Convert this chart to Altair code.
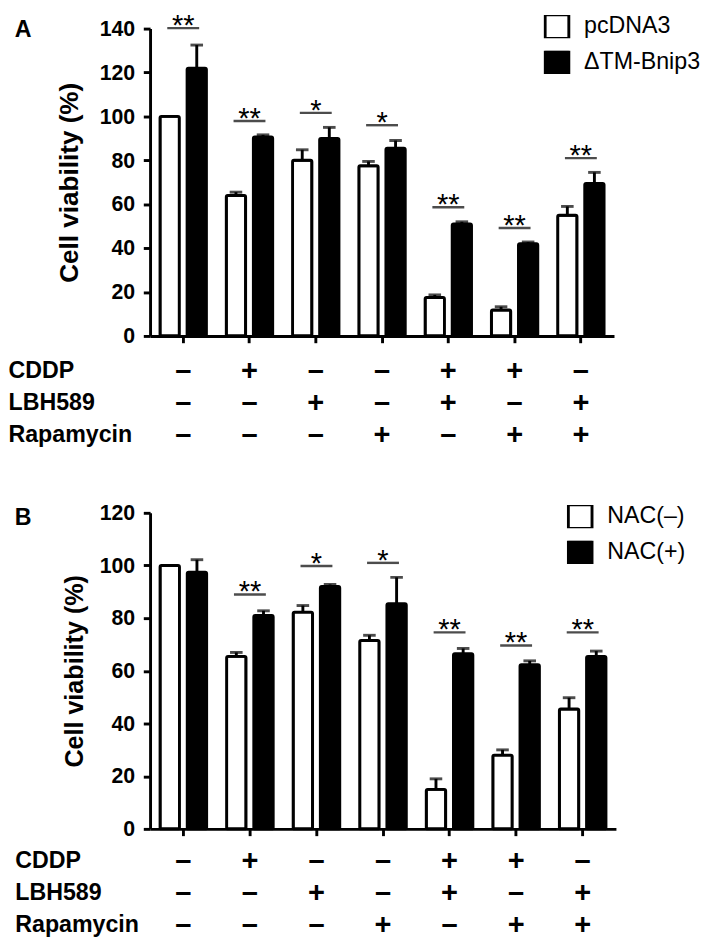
import altair as alt
import pandas as pd

FONT = "Liberation Sans"

# ---- treatment table (shared by both panels) ----
CDDP = ["–", "+", "–", "–", "+", "+", "–"]
LBH589 = ["–", "–", "+", "–", "+", "–", "+"]
RAPAMYCIN = ["–", "–", "–", "+", "–", "+", "+"]
ROW_NAMES = ["CDDP", "LBH589", "Rapamycin"]
Y_TITLE = "Cell viability (%)"

# ---- panel A ----
A_SERIES = ["pcDNA3", "ΔTM-Bnip3"]
A_CTRL = [100, 64, 80, 77.5, 17.5, 11.8, 55]
A_CTRL_ERR = [0, 1.5, 4.8, 2, 1.2, 1.5, 4]
A_TRT = [122, 90.6, 90, 85.5, 51, 42, 69.5]
A_TRT_ERR = [10.5, 1, 5, 3.5, 1, 0.8, 5]
A_SIG_Y = [140.2, 97.9, 101.6, 96, 58.6, 49.2, 81]
A_SIG = ["**", "**", "*", "*", "**", "**", "**"]
A_TICKS = [0, 20, 40, 60, 80, 100, 120, 140]

# ---- panel B ----
B_SERIES = ["NAC(–)", "NAC(+)"]
B_CTRL = [100, 65.5, 82.3, 71.5, 15, 28, 45.5]
B_CTRL_ERR = [0, 1.5, 2.5, 2, 4, 2, 4.3]
B_TRT = [97.5, 81, 92, 85.5, 66.5, 62.3, 65.5]
B_TRT_ERR = [4.7, 1.8, 0.8, 10, 2, 1.5, 2]
B_SIG_Y = [None, 89, 99.8, 101, 74.6, 69.6, 74.6]
B_SIG = ["", "**", "*", "*", "**", "**", "**"]
B_TICKS = [0, 20, 40, 60, 80, 100, 120]

CONDS = [f"{c} {l} {r}" for c, l, r in zip(CDDP, LBH589, RAPAMYCIN)]


def panel(letter, key, series, ctrl, ctrl_err, trt, trt_err, sig_y, sig, ticks,
          width, height, ytitle_size, ytitle_pad, title_x, label_pad, row_y,
          title_dx, title_dy, legend_x, legend_y, legend_rowpad):
    rows = []
    for i, c in enumerate(CONDS):
        rows.append({"cond": c, key: series[0], "value": ctrl[i], "err": ctrl_err[i]})
        rows.append({"cond": c, key: series[1], "value": trt[i], "err": trt_err[i]})
    df = pd.DataFrame(rows)
    df["top"] = df["value"] + df["err"]
    err_df = df[df["err"] > 0]
    sig_df = pd.DataFrame([
        {"cond": c, "value": y, "sig": s}
        for c, y, s in zip(CONDS, sig_y, sig) if y is not None
    ])

    ymax = ticks[-1]
    x_axis = alt.Axis(
        title=ROW_NAMES, labelExpr="split(datum.label, ' ')", labelAngle=0,
        labelFontSize=30, labelFontWeight="bold", labelLineHeight=33,
        labelBaseline="top", labelPadding=label_pad, labelOverlap=False, labelFlush=False,
        tickSize=7, tickWidth=3, domainWidth=3,
        titleX=title_x, titleY=row_y, titleAlign="left", titleBaseline="top",
        titleAngle=0, titleFontSize=24, titleFontWeight="bold", titleLineHeight=33,
    )
    x_scale = alt.Scale(type="band", paddingInner=0.3, paddingOuter=0.15)
    y_axis = alt.Axis(
        values=ticks, title=Y_TITLE, grid=False, labelFontSize=22,
        labelFontWeight="bold", labelPadding=9, tickSize=7, tickWidth=3,
        domainWidth=3, titleFontSize=ytitle_size, titleFontWeight="bold",
        titlePadding=ytitle_pad,
    )
    y_scale = alt.Scale(domain=[0, ymax], nice=False, zero=True)

    X = alt.X("cond:N", sort=CONDS, scale=x_scale, axis=x_axis)
    XO = alt.XOffset(f"{key}:N", sort=series,
                     scale=alt.Scale(domain=series, paddingInner=0.286, paddingOuter=0))

    bars = alt.Chart(df).mark_bar(stroke="black", strokeWidth=3, cornerRadius=1.5).encode(
        x=X, xOffset=XO,
        y=alt.Y("value:Q", scale=y_scale, axis=y_axis),
        fill=alt.Fill(f"{key}:N", sort=series,
                      scale=alt.Scale(domain=series, range=["white", "black"]),
                      legend=alt.Legend(
                          title=None, orient="none", legendX=legend_x, legendY=legend_y,
                          symbolType="square", symbolSize=600, symbolStrokeColor="black",
                          symbolStrokeWidth=3, labelFontSize=24, labelFont=FONT,
                          labelOffset=14, rowPadding=legend_rowpad, clipHeight=24,
                          padding=0, symbolOpacity=1, labelColor="black")),
    )
    whisk = alt.Chart(err_df).mark_rule(color="black", strokeWidth=3).encode(
        x=X, xOffset=XO,
        y=alt.Y("value:Q", scale=y_scale, axis=y_axis),
        y2="top:Q",
    )
    caps = alt.Chart(err_df).mark_tick(color="black", size=13, thickness=3).encode(
        x=X, xOffset=XO,
        y=alt.Y("top:Q", scale=y_scale, axis=y_axis),
    )
    sig_lines = alt.Chart(sig_df).mark_tick(color="black", size=33, thickness=2.5).encode(
        x=X, y=alt.Y("value:Q", scale=y_scale, axis=y_axis),
    )
    stars = alt.Chart(sig_df).mark_text(
        font=FONT, fontSize=30, dy=7, baseline="alphabetic", color="black"
    ).encode(
        x=X, y=alt.Y("value:Q", scale=y_scale, axis=y_axis), text="sig:N",
    )
    return alt.layer(bars, whisk, caps, sig_lines, stars).properties(
        width=width, height=height,
        title=alt.TitleParams(letter, orient="none", anchor="start", frame="group",
                              fontSize=24, fontWeight="bold", font=FONT,
                              baseline="top", align="left", offset=0,
                              dx=title_dx, dy=title_dy, color="black"),
    )


A = panel("A", "vector", A_SERIES, A_CTRL, A_CTRL_ERR, A_TRT, A_TRT_ERR, A_SIG_Y,
          A_SIG, A_TICKS, 480, 318, 27, 16, -147, 14, 24, -140, -10, 407, -14, 13)
B = panel("B", "nac", B_SERIES, B_CTRL, B_CTRL_ERR, B_TRT, B_TRT_ERR, B_SIG_Y,
          B_SIG, B_TICKS, 482, 327, 26, 12, -140, 11, 21, -140, -6, 431, -8, 13)

chart = alt.vconcat(A, B, spacing=55).resolve_scale(
    fill="independent", xOffset="independent"
).resolve_legend(fill="independent").properties(
    padding={"top": -13, "left": 0, "right": 0, "bottom": -5}, background="white"
).configure_view(stroke=None).configure_axis(
    labelFont=FONT, titleFont=FONT, labelColor="black", titleColor="black",
    domainColor="black", tickColor="black",
).configure_legend(labelFont=FONT)

chart.save("out.html", embed_options={"renderer": "svg", "actions": False})
